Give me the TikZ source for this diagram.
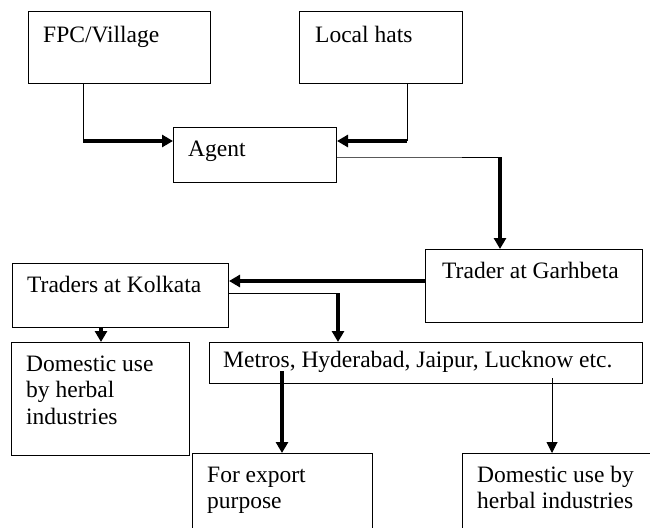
\documentclass[tikz,border=0pt]{standalone}
\usepackage{fontspec}
\setmainfont{Liberation Serif}
\usetikzlibrary{arrows.meta,calc}

\tikzset{
  box/.style={draw, line width=1pt, inner sep=0pt, anchor=north west},
  boxtext/.style={anchor=base west, align=left, inner sep=0pt, xshift=15pt, yshift=-29pt,
                  font=\fontsize{23.5}{26.5}\selectfont},
  thinline/.style={line width=1pt},
  thickarrow/.style={line width=3.4pt, -{Triangle[length=11pt,width=12pt]}},
  thinarrow/.style={line width=1pt, -{Triangle[length=11pt,width=11pt]}},
}

\begin{document}
\begin{tikzpicture}[x=1pt, y=-1pt]
        \clip (0,0) rectangle (650,527);
        \fill[white] (0,0) rectangle (650,527);

        % Sources
        \node[box, minimum width=182, minimum height=72,
              label={[boxtext, yshift=-2pt]north west:FPC/Village}] (fpc) at (28,11) {};
        \node[box, minimum width=163, minimum height=72,
              label={[boxtext, xshift=1pt, yshift=-2pt]north west:Local hats}] (hats) at (299,11) {};
        \node[box, minimum width=163, minimum height=55,
              label={[boxtext]north west:Agent}] (agent) at (173,127) {};

        % Traders
        \node[box, minimum width=217, minimum height=73,
              label={[boxtext, xshift=2pt]north west:Trader at Garhbeta}] (garh) at (425,249) {};
        \node[box, minimum width=216, minimum height=64,
              label={[boxtext]north west:Traders at Kolkata}] (kolk) at (12,263) {};

        % End uses (base of a label is its last line)
        \node[box, minimum width=178, minimum height=113,
              label={[boxtext, yshift=-53pt]north west:Domestic use\\by herbal\\industries}] (domleft) at (11,342) {};
        \node[box, minimum width=433, minimum height=41,
              label={[boxtext, xshift=-1pt, yshift=4pt]north west:Metros, Hyderabad, Jaipur, Lucknow etc.}] (metros) at (209,342) {};
        \node[box, minimum width=180, minimum height=110,
              label={[boxtext, yshift=-26.5pt]north west:For export\\purpose}] (export) at (192,453) {};
        \node[box, minimum width=220, minimum height=110,
              label={[boxtext, yshift=-26.5pt]north west:Domestic use by\\herbal industries}] (domright) at (462,453) {};

        % Arrows into agent
        \draw[thinline] ([xshift=55pt]fpc.south west) -- ++(0,57) coordinate (fpcbend);
        \draw[thickarrow] (fpcbend) -- (fpcbend -| agent.west);
        \draw[thinline] ([xshift=108pt]hats.south west) -- ++(0,57) coordinate (hatsbend);
        \draw[thickarrow] (hatsbend) -- (hatsbend -| agent.east);

        % Agent to Garhbeta
        \draw[thinline] ([yshift=-30pt]agent.north east) coordinate (agentout) -- (agentout -| garh.north west) -- ++(75,0) coordinate (garhbend);
        \draw[thickarrow] (garhbend) -- (garhbend |- garh.north);

        % Garhbeta to Kolkata
        \draw[thickarrow] ([yshift=-32pt]garh.north west) coordinate (garhout) -- (garhout -| kolk.east);

        % Kolkata onwards
        \draw[thinline] ([yshift=-30pt]kolk.north east) coordinate (kolkout) -- ++(109,0) coordinate (kolkbend);
        \draw[thickarrow] (kolkbend) -- (kolkbend |- metros.north);
        \draw[thickarrow] ([xshift=89pt]kolk.south west) -- ([xshift=89pt]kolk.south west |- domleft.north);

        % Metros onwards
        \draw[thickarrow] ([xshift=73pt, yshift=13pt]metros.south west) -- ([xshift=73pt]metros.south west |- export.north);
        \draw[thinarrow] ([xshift=343pt, yshift=6pt]metros.south west) -- ([xshift=343pt]metros.south west |- domright.north);
\end{tikzpicture}
\end{document}
